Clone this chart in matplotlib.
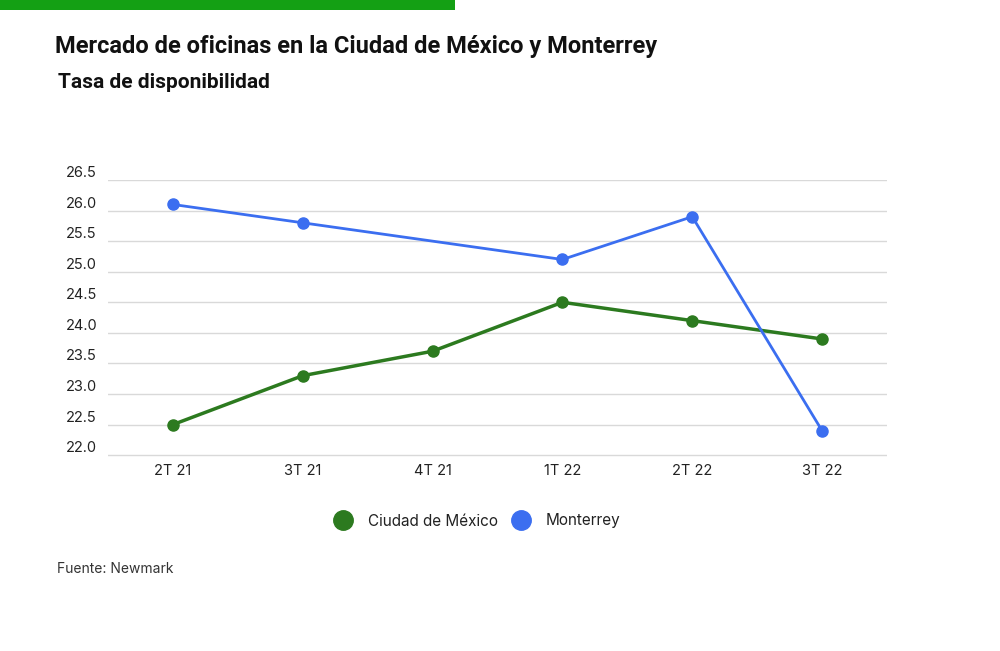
import numpy as np
import matplotlib
matplotlib.use('Agg')
import matplotlib.pyplot as plt
from matplotlib.lines import Line2D
from matplotlib.patches import Rectangle

# data
quarters = ['2T 21', '3T 21', '4T 21', '1T 22', '2T 22', '3T 22']
cdmx = [22.5, 23.3, 23.7, 24.5, 24.2, 23.9]
monterrey = [26.1, 25.8, np.nan, 25.2, 25.9, 22.4]
yticks = [22.0, 22.5, 23.0, 23.5, 24.0, 24.5, 25.0, 25.5, 26.0, 26.5]

green = '#2c7a1f'
blue = '#3b6ef0'
txt = '#222222'

plt.rcParams['font.family'] = ['Inter', 'DejaVu Sans']

fig = plt.figure(figsize=(10, 6.51), dpi=100)
fig.patch.set_facecolor('white')

# green strip at the top
fig.patches.append(Rectangle((0, 1 - 10/651), 0.455, 10/651, transform=fig.transFigure,
                             facecolor='#14a014', edgecolor='none'))

fig.text(0.055, 1 - 46/651, 'Mercado de oficinas en la Ciudad de México y Monterrey',
         family=['Roboto', 'DejaVu Sans'], fontweight='bold',
         fontsize=17, color='#111111', va='center')
fig.text(0.058, 1 - 83/651, 'Tasa de disponibilidad',
         family=['Roboto', 'DejaVu Sans'], fontweight='bold',
         fontsize=15, color='#111111', va='center')

ax = fig.add_axes([0.108, 1 - 457/651, 0.779, (457 - 180)/651])
x = np.arange(len(quarters))

ax.plot(x, cdmx, color=green, lw=2.5, marker='o', ms=8, clip_on=False, zorder=3)
m = ~np.isnan(monterrey)
ax.plot(x[m], np.array(monterrey)[m], color=blue, lw=2.0, marker='o', ms=8,
        clip_on=False, zorder=3)

ax.set_xlim(-0.5, len(quarters) - 0.5)
ax.set_ylim(21.97, 26.5)
ax.set_xticks(x)
ax.set_xticklabels(quarters, fontsize=10.5, color=txt)
ax.set_yticks(yticks)
ax.set_yticklabels(['%.1f' % v for v in yticks], fontsize=10.5, color=txt)
for lab in ax.get_yticklabels():
    lab.set_ha('left')
    lab.set_va('bottom')
ax.tick_params(axis='y', length=0, pad=30)
ax.tick_params(axis='x', length=0, pad=5)
ax.grid(axis='y', color='#d9d9d9', lw=1)
ax.set_axisbelow(True)
for s in ax.spines.values():
    s.set_visible(False)

handles = [Line2D([], [], color=green, marker='o', ls='none', ms=14),
           Line2D([], [], color=blue, marker='o', ls='none', ms=14)]
fig.legend(handles, ['Ciudad de México', 'Monterrey'], loc='center',
           bbox_to_anchor=(0.474, 1 - 521/651), ncol=2, frameon=False,
           fontsize=11, handletextpad=0.6, columnspacing=0.5, labelcolor=txt)

fig.text(0.057, 1 - 569/651, 'Fuente: Newmark', fontsize=10, color='#333333', va='center')

fig.savefig('out.png', dpi=100, facecolor='white')
